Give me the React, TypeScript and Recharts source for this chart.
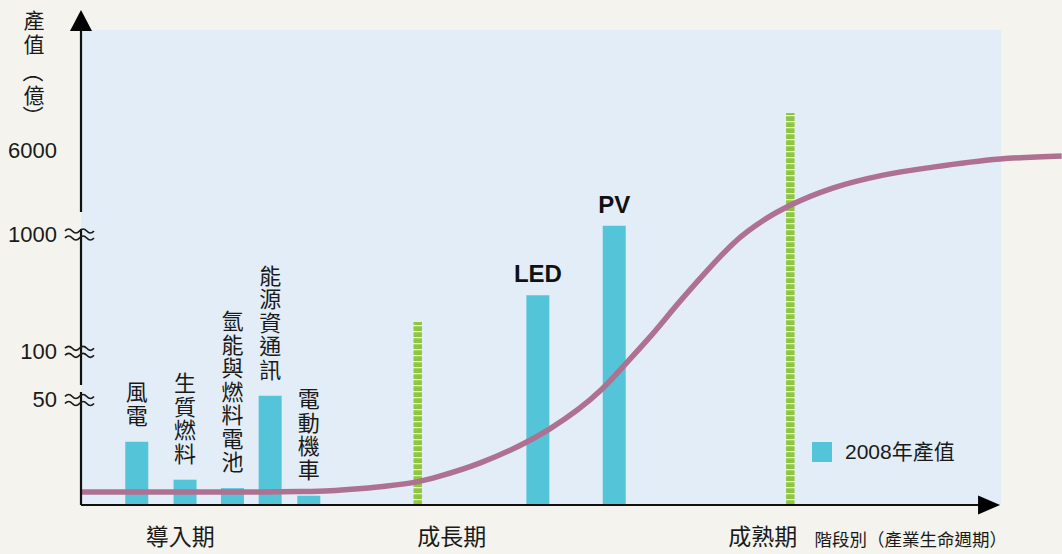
import {
  ComposedChart,
  Bar,
  Line,
  XAxis,
  YAxis,
  ReferenceArea,
  ReferenceLine,
  ReferenceDot,
  LabelList,
  Legend,
  Label,
} from "recharts"

// industries and where they sit on the life cycle (0 = start, 100 = end of axis)
const industries = ["風電", "生質燃料", "氫能與燃料電池", "能源資通訊", "電動機車", "LED", "PV"]
const lifecyclePos = [6.1, 11.35, 16.5, 20.6, 24.8, 49.7, 58.0]
const output2008 = [30, 12, 8, 54, 4.4, 530, 1500] // 億
const seriesName = "2008年產值"

const stages = ["導入期", "成長期", "成熟期"]
const stagePos = [10.8, 40.3, 74.1]
const axisTitleX = "階段別（產業生命週期）"
const axisTitleY = ["產", "值", "（", "億", "）"]

// stage boundaries (dashed green)
const boundaryPos = [36.6, 77.1]
const boundaryTop = [183, 392]

// industry life-cycle S curve (level in axis units)
const curvePos = [0, 12.9, 19.5, 23.8, 27.1, 29.8, 32.5, 36.5, 39, 43.4, 48.5, 51, 56.4, 59.2, 61.8, 65.1, 67.3, 69.5, 70.9, 74.6, 77.1, 81.7, 87.2, 92.6, 99.9, 106.6]
const curveLevel = [13, 13, 13, 13.4, 14.3, 16, 18.3, 23.1, 28.9, 42.1, 63.3, 76.4, 113.9, 141.2, 167.6, 203.6, 226.6, 248.6, 261.6, 287.1, 299.7, 316.9, 329.9, 337.9, 346, 349.1]

// broken y axis: tick values and their heights on the axis
const yTickValues = [50, 100, 1000, 6000]
const yTickAt = [105.5, 153.7, 271, 354.5]

const CYAN = "#54c5d8"
const GREEN = "#8dc63f"
const PURPLE = "#ae7191"
const INK = "#1a1a1a"
const CJK = '"Noto Sans CJK TC", "Noto Sans", sans-serif'
const LATIN = '"Liberation Sans", Arial, "Noto Sans CJK TC", sans-serif'

const knotsV = [0, ...yTickValues]
const knotsA = [0, ...yTickAt]
function toAxis(v: number) {
  for (let i = 1; i < knotsV.length; i++) {
    if (v <= knotsV[i]) {
      const t = (v - knotsV[i - 1]) / (knotsV[i] - knotsV[i - 1])
      return knotsA[i - 1] + t * (knotsA[i] - knotsA[i - 1])
    }
  }
  return knotsA[knotsA.length - 1]
}

const barData = industries.map((name, i) => ({
  name,
  pos: lifecyclePos[i],
  value: output2008[i],
  h: toAxis(output2008[i]),
}))
const curveData = curvePos.map((pos, i) => ({ pos, level: curveLevel[i] }))

const wave = (x: number, y: number) =>
  `M${x} ${y} q3.6 -4 7.25 0 t7.25 0 t7.25 0 t7.25 0`

const YTick = (props: any) => {
  const { x, y, payload } = props
  const i = yTickAt.indexOf(payload.value)
  return (
    <g>
      <text x={x - 24} y={y} textAnchor="end" dominantBaseline="central" fontSize={22} fill={INK} fontFamily={LATIN}>
        {yTickValues[i]}
      </text>
      {i < yTickValues.length - 1 && (
        <g fill="none" stroke={INK} strokeWidth={1.7}>
          <path d={wave(x - 16, y - 3)} />
          <path d={wave(x - 16, y + 4)} />
        </g>
      )}
    </g>
  )
}

const XTick = (props: any) => {
  const { x, y, payload } = props
  const i = stagePos.indexOf(payload.value)
  return (
    <text x={x} y={y + 40} textAnchor="middle" fontSize={23} fill={INK} fontFamily={CJK}>
      {stages[i]}
    </text>
  )
}

const IndustryLabel = (props: any) => {
  const { x, y, width, value } = props
  const cx = x + width / 2
  const s = String(value)
  if (/^[A-Za-z]+$/.test(s)) {
    return (
      <text x={cx} y={y - 13} textAnchor="middle" fontSize={24} fontWeight="bold" fill="#111" fontFamily={LATIN}>
        {s}
      </text>
    )
  }
  const chars = Array.from(s)
  const n = chars.length
  return (
    <text fontSize={22} fill={INK} fontFamily={CJK} textAnchor="middle" dominantBaseline="central">
      {chars.map((c, k) => (
        <tspan key={k} x={cx} y={y - 28 - (n - 1 - k) * 23.5}>
          {c}
        </tspan>
      ))}
    </text>
  )
}

// vertical axis title; the brackets are turned to run down the column
const YTitle = () => {
  const ys = [19, 43, 72, 94, 116]
  return (
    <g fontSize={21} fill={INK} fontFamily={CJK}>
      {axisTitleY.map((c, k) => {
        const turn = c === "（" || c === "）"
        return (
          <text
            key={k}
            x={34}
            y={ys[k]}
            textAnchor="middle"
            dominantBaseline="central"
            transform={turn ? `rotate(90 34 ${ys[k]})` : undefined}
          >
            {c}
          </text>
        )
      })}
    </g>
  )
}

const XTitle = (props: any) => {
  const vb = props.viewBox || { x: 81, y: 505, width: 981 }
  return (
    <text x={vb.x + vb.width - 55} y={vb.y + 41} textAnchor="end" fontSize={17.5} fill={INK} fontFamily={CJK}>
      {axisTitleX}
    </text>
  )
}

const LegendBox = (props: any) => {
  const item = (props.payload || []).find((p: any) => p.value === seriesName)
  return (
    <div style={{ display: "flex", alignItems: "center" }}>
      <span style={{ width: 20, height: 20, background: CYAN, display: "inline-block" }} />
      <span style={{ marginLeft: 13, fontSize: 21, color: INK, fontFamily: LATIN, lineHeight: "24px" }}>
        {item ? item.value : seriesName}
      </span>
    </div>
  )
}

const UpArrow = (p: any) => (
  <polygon points={`${p.cx},${p.cy} ${p.cx - 11},${p.cy + 21} ${p.cx + 11},${p.cy + 21}`} fill="#000" />
)
const RightArrow = (p: any) => (
  <polygon points={`${p.cx},${p.cy} ${p.cx - 22},${p.cy - 9.5} ${p.cx - 22},${p.cy + 9.5}`} fill="#000" />
)

export default function App() {
  return (
    <div
      style={{
        position: "absolute",
        left: 0,
        top: 0,
        width: 1062,
        height: 554,
        background: "#f4f3ed",
        fontFamily: CJK,
      }}
    >
      <ComposedChart
        width={1062}
        height={554}
        data={barData}
        margin={{ top: 10, right: 0, bottom: 0, left: 0 }}
      >
        <ReferenceArea x1={0} x2={100} y1={0} y2={475} fill="#e3edf7" fillOpacity={1} stroke="none" zIndex={-200} />
        <XAxis
          dataKey="pos"
          type="number"
          domain={[0, 106.63]}
          allowDataOverflow
          ticks={stagePos}
          tick={<XTick />}
          tickLine={false}
          axisLine={false}
          tickSize={0}
          tickMargin={0}
          height={49}
          interval={0}
        >
          <Label content={<XTitle />} />
        </XAxis>
        <XAxis xAxisId="curve" dataKey="pos" type="number" domain={[0, 106.63]} allowDataOverflow hide />
        <YAxis
          type="number"
          domain={[0, 495]}
          allowDataOverflow
          ticks={yTickAt}
          tick={<YTick />}
          tickLine={false}
          axisLine={false}
          tickSize={0}
          tickMargin={0}
          width={81}
          interval={0}
        >
          <Label content={<YTitle />} />
        </YAxis>
        {boundaryPos.map((p, i) => (
          <ReferenceLine
            key={"w" + i}
            segment={[{ x: p, y: 0 }, { x: p, y: boundaryTop[i] }]}
            stroke="#f2f6ea"
            strokeWidth={8.5}
          />
        ))}
        {boundaryPos.map((p, i) => (
          <ReferenceLine
            key={"g" + i}
            segment={[{ x: p, y: 0 }, { x: p, y: boundaryTop[i] }]}
            stroke={GREEN}
            strokeWidth={8.5}
            strokeDasharray="4.7 1.3"
          />
        ))}
        <Bar dataKey="h" name={seriesName} fill={CYAN} barSize={23} isAnimationActive={false}>
          <LabelList dataKey="name" content={<IndustryLabel />} />
        </Bar>
        <Line
          xAxisId="curve"
          data={curveData}
          dataKey="level"
          type="monotone"
          stroke={PURPLE}
          strokeWidth={5.5}
          dot={false}
          activeDot={false}
          legendType="none"
          isAnimationActive={false}
        />
        {/* axes with breaks */}
        <ReferenceLine segment={[{ x: 0, y: 0 }, { x: 0, y: 113 }]} stroke="#111" strokeWidth={2.2} />
        <ReferenceLine segment={[{ x: 0, y: 120 }, { x: 0, y: 276 }]} stroke="#111" strokeWidth={2.2} />
        <ReferenceLine segment={[{ x: 0, y: 293 }, { x: 0, y: 476 }]} stroke="#111" strokeWidth={2.2} />
        <ReferenceLine segment={[{ x: 0, y: 0 }, { x: 98, y: 0 }]} stroke="#111" strokeWidth={2.2} />
        <ReferenceDot x={0} y={495} r={0} shape={<UpArrow />} ifOverflow="visible" />
        <ReferenceDot x={99.9} y={0} r={0} shape={<RightArrow />} ifOverflow="visible" />
        <Legend
          layout="vertical"
          align="center"
          verticalAlign="middle"
          content={<LegendBox />}
          wrapperStyle={{ position: "absolute", left: 812, top: 440, width: "auto" }}
        />
      </ComposedChart>
    </div>
  )
}
